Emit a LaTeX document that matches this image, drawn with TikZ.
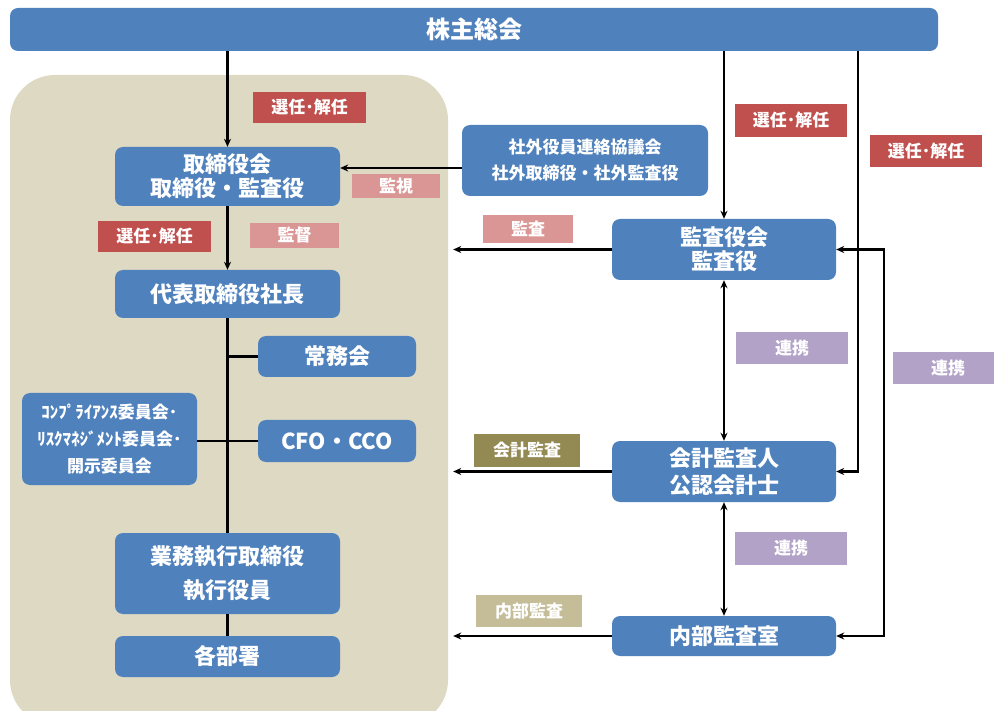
\documentclass[tikz,border=0pt]{standalone}
\usepackage{fontspec}
\setmainfont{Noto Sans CJK JP}
\usetikzlibrary{arrows.meta}
\definecolor{boxblue}{HTML}{4F81BD}
\definecolor{panelbg}{HTML}{DDD9C3}
\definecolor{lred}{HTML}{C0504D}
\definecolor{lpink}{HTML}{D99694}
\definecolor{lpurple}{HTML}{B3A2C7}
\definecolor{lolive}{HTML}{938953}
\definecolor{ltan}{HTML}{C4BD97}
\tikzset{
  bluebox/.style={fill=boxblue, rounded corners=8pt, text=white, font=\bfseries\fontsize{22}{24}\selectfont, align=center, inner sep=0pt},
  tag/.style={text=white, font=\bfseries\fontsize{17}{19}\selectfont, inner sep=0pt, align=center},
  arr/.style={line width=2.4pt, -{Stealth[length=8pt,width=7pt]}},
  arrb/.style={line width=2.4pt, {Stealth[length=8pt,width=7pt]}-{Stealth[length=8pt,width=7pt]}},
  ln/.style={line width=2.4pt},
}
\begin{document}
\begin{tikzpicture}[x=1pt,y=-1pt]
\useasboundingbox (0,0) rectangle (994,711);
% panel
\node[fill=panelbg, rounded corners=45pt, minimum width=438pt, minimum height=650pt, inner sep=0pt] (panel) at (229,400) {};
% top bar
\node[bluebox, minimum width=928pt, minimum height=43pt, font=\bfseries\fontsize{24}{26}\selectfont] (bar) at (474,29.5) {株主総会};
% left boxes
\node[bluebox, minimum width=225pt, minimum height=59pt] (tori) at (227.5,176.5) {取締役会\\取締役・監査役};
\node[bluebox, minimum width=225pt, minimum height=48pt] (daihyo) at (227.5,294) {代表取締役社長};
\node[bluebox, minimum width=158pt, minimum height=41pt] (jomu) at (337,356.5) {常務会};
\node[bluebox, minimum width=158pt, minimum height=42pt] (cfo) at (337,441) {CFO・CCO};
\node[bluebox, minimum width=175pt, minimum height=92pt, font=\bfseries\fontsize{17}{27}\selectfont] (comp) at (109.5,439) {ｺﾝﾌﾟﾗｲｱﾝｽ委員会･\\ﾘｽｸﾏﾈｼﾞﾒﾝﾄ委員会･\\開示委員会};
\node[bluebox, minimum width=225pt, minimum height=81pt, font=\bfseries\fontsize{22}{34}\selectfont] (gyomu) at (227.5,573.5) {業務執行取締役\\執行役員};
\node[bluebox, minimum width=225pt, minimum height=41pt] (kakubu) at (227.5,656.5) {各部署};
% right boxes
\node[bluebox, minimum width=246pt, minimum height=71pt, font=\bfseries\fontsize{17}{26}\selectfont] (shagai) at (585,160.5) {社外役員連絡協議会\\社外取締役・社外監査役};
\node[bluebox, minimum width=224pt, minimum height=61pt] (kansayaku) at (724,249.5) {監査役会\\監査役};
\node[bluebox, minimum width=224pt, minimum height=61pt, font=\bfseries\fontsize{22}{27}\selectfont] (kaikei) at (724,471.5) {会計監査人\\公認会計士};
\node[bluebox, minimum width=224pt, minimum height=40pt] (naibu) at (724,636) {内部監査室};
% tags
\node[tag, fill=lred, minimum width=113pt, minimum height=31pt] (senin1) at (309.5,107.5) {選任･解任};
\node[tag, fill=lred, minimum width=113pt, minimum height=31pt] (senin2) at (154.5,236.5) {選任･解任};
\node[tag, fill=lpink, minimum width=88pt, minimum height=24pt] (kanshi) at (396,186) {監視};
\node[tag, fill=lpink, minimum width=89pt, minimum height=25pt] (kantoku) at (294.5,235.5) {監督};
\node[tag, fill=lpink, minimum width=90pt, minimum height=28pt] (kansa) at (528,229) {監査};
\node[tag, fill=lred, minimum width=112pt, minimum height=33pt] (senin3) at (791,120.5) {選任･解任};
\node[tag, fill=lred, minimum width=112pt, minimum height=32pt] (senin4) at (926,151) {選任･解任};
\node[tag, fill=lpurple, minimum width=112pt, minimum height=32pt] (renkei1) at (792,348) {連携};
\node[tag, fill=lpurple, minimum width=110pt, minimum height=32pt] (renkei2) at (948,368) {連携};
\node[tag, fill=lolive, minimum width=106pt, minimum height=33pt] (kaikeikansa) at (527,450.5) {会計監査};
\node[tag, fill=lpurple, minimum width=112pt, minimum height=33pt] (renkei3) at (791,548.5) {連携};
\node[tag, fill=ltan, minimum width=106pt, minimum height=32pt] (naibukansa) at (529,611) {内部監査};
% helper coordinates
\coordinate (r1) at (858,0);
\coordinate (r2) at (884,0);
\coordinate (ya) at (0,168);
% connectors
\draw[arr] (bar.south -| tori.north) -- (tori.north);
\draw[arr] (tori.south) -- (daihyo.north);
\draw[ln] (daihyo.south) -- (gyomu.north);
\draw[ln] (gyomu.south) -- (kakubu.north);
\draw[ln] (jomu.west) -- (jomu.west -| daihyo.south);
\draw[ln] (cfo.west) -- (cfo.west -| comp.east);
\draw[arr] (shagai.west |- ya) -- (tori.east |- ya);
\draw[arr] (bar.south -| kansayaku.north) -- (kansayaku.north);
\draw[arr] (bar.south -| r1) -- (r1 |- kaikei.east) -- (kaikei.east);
\draw[arrb] (kansayaku.east) -- (r2 |- kansayaku.east) -- (r2 |- naibu.east) -- (naibu.east);
\draw[arrb] (kansayaku.south) -- (kaikei.north);
\draw[arrb] (kaikei.south) -- (naibu.north);
\draw[arr] (kansayaku.west) -- ([xshift=5pt]kansayaku.west -| panel.east);
\draw[arr] (kaikei.west) -- ([xshift=5pt]kaikei.west -| panel.east);
\draw[arr] (naibu.west) -- ([xshift=5pt]naibu.west -| panel.east);
\end{tikzpicture}
\end{document}
